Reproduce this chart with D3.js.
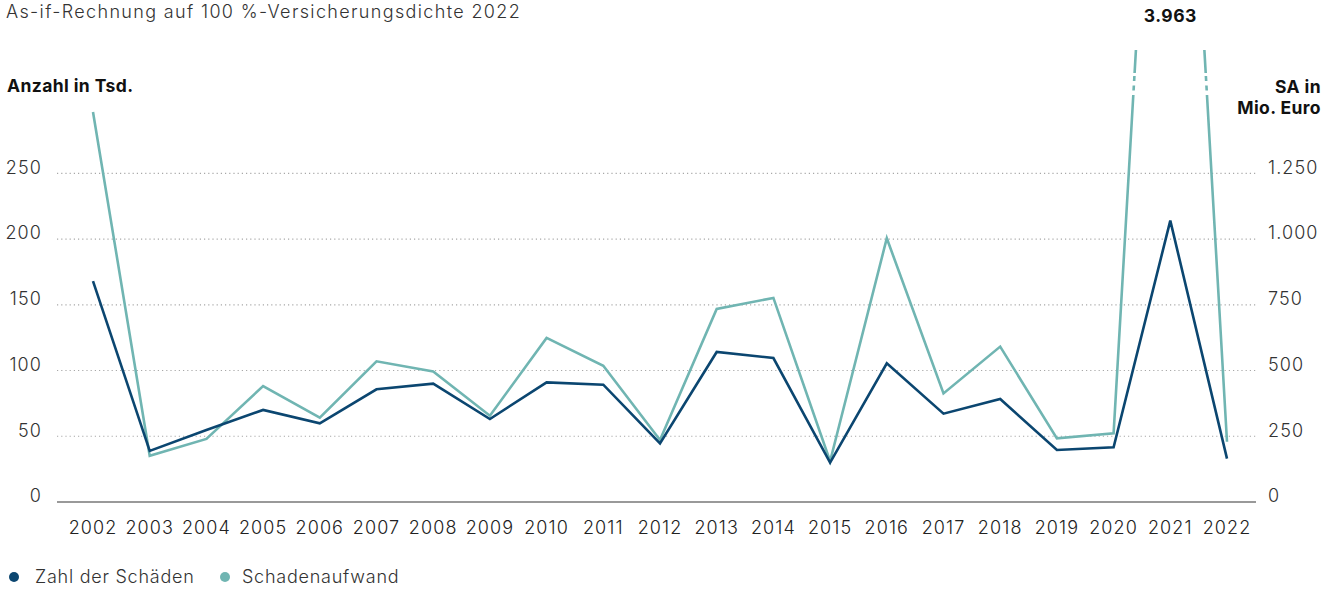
<!DOCTYPE html>
<html>
<head>
<meta charset="utf-8">
<script src="https://cdn.jsdelivr.net/npm/d3@7"></script>
<style>
  html, body { margin: 0; padding: 0; background: #fff; }
  svg { display: block; font-family: "Inter", "Roboto", sans-serif; }
  .reg { font-weight: 300; letter-spacing: 1.1px; }
</style>
</head>
<body>
<svg id="chart" width="1338" height="590"></svg>
<script>
const years = ["2002","2003","2004","2005","2006","2007","2008","2009","2010","2011","2012","2013","2014","2015","2016","2017","2018","2019","2020","2021","2022"];
const zahlDerSchaeden = [168, 38.9, 54.7, 70, 59.8, 85.7, 90, 63.1, 91, 89.2, 44.6, 114.1, 109.5, 30, 105.5, 67.2, 78.3, 39.6, 41.6, 214, 33];
const schadenaufwand = [1483, 176, 240, 441, 321, 535, 496, 328, 624, 518, 236, 734, 776, 155, 1003, 413, 591, 242, 261, 3963, 229];
const leftTicks = [0, 50, 100, 150, 200, 250];
const rightTicks = [0, 250, 500, 750, 1000, 1250];
const seriesNames = ["Zahl der Schäden", "Schadenaufwand"];
const colors = ["#0b4670", "#70b5b2"];

const svg = d3.select("#chart");
const x = d3.scalePoint().domain(years).range([93, 1227]);
const yL = d3.scaleLinear().domain([0, 250]).range([502, 173.3]);
const yR = d3.scaleLinear().domain([0, 1250]).range([502, 173.3]);
const gridX0 = 57, gridX1 = 1258;
const fmt = d => d3.format(",")(d).replace(/,/g, ".");

// gridlines
svg.append("g").selectAll("line").data(leftTicks.filter(d => d > 0)).join("line")
  .attr("x1", gridX0).attr("x2", gridX1)
  .attr("y1", d => yL(d)).attr("y2", d => yL(d))
  .attr("stroke", "#a8a8a8").attr("stroke-width", 1.2).attr("stroke-dasharray", "1.2,3");
// baseline
svg.append("line").attr("x1", gridX0).attr("x2", 1256).attr("y1", yL(0)).attr("y2", yL(0))
  .attr("stroke", "#777").attr("stroke-width", 1.5);

// left axis labels
svg.append("g").selectAll("text").data(leftTicks).join("text").attr("class", "reg")
  .attr("x", 42).attr("y", d => yL(d) - 6).attr("dy", "0.35em")
  .attr("text-anchor", "end").attr("font-size", 18).attr("fill", "#333")
  .text(fmt);
// right axis labels
svg.append("g").selectAll("text").data(rightTicks).join("text").attr("class", "reg")
  .attr("x", 1268).attr("y", d => yR(d) - 6).attr("dy", "0.35em")
  .attr("text-anchor", "start").attr("font-size", 18).attr("fill", "#333")
  .text(fmt);
// x labels
svg.append("g").selectAll("text").data(years).join("text").attr("class", "reg")
  .attr("x", d => x(d)).attr("y", 528).attr("dy", "0.35em")
  .attr("text-anchor", "middle").attr("font-size", 18).attr("fill", "#222")
  .text(d => d);

// clip for break
const defs = svg.append("defs");
const cp = defs.append("clipPath").attr("id", "brk");
[[0, 50, 1338, 23], [0, 76, 1338, 5], [0, 85.5, 1338, 5], [0, 95, 1338, 500]].forEach(r => {
  cp.append("rect").attr("x", r[0]).attr("y", r[1]).attr("width", r[2]).attr("height", r[3]);
});

const line = (scale) => d3.line().x((d, i) => x(years[i])).y(d => scale(d));

svg.append("path").datum(schadenaufwand)
  .attr("d", line(yR)).attr("fill", "none")
  .attr("stroke", colors[1]).attr("stroke-width", 2.6).attr("stroke-linejoin", "miter")
  .attr("clip-path", "url(#brk)");
svg.append("path").datum(zahlDerSchaeden)
  .attr("d", line(yL)).attr("fill", "none")
  .attr("stroke", colors[0]).attr("stroke-width", 2.6).attr("stroke-linejoin", "miter");

// peak label
svg.append("text").attr("x", x("2021")).attr("y", 16).attr("dy", "0.35em")
  .attr("text-anchor", "middle").attr("font-size", 17.5).attr("font-weight", 700).attr("fill", "#111")
  .attr("letter-spacing", "0.5px")
  .text(fmt(schadenaufwand[19]));

// titles
svg.append("text").attr("class", "reg").attr("x", 6).attr("y", 12).attr("dy", "0.35em")
  .attr("letter-spacing", "1.35px").style("letter-spacing", "1.35px")
  .attr("font-size", 18).attr("fill", "#333").text("As-if-Rechnung auf 100 %-Versicherungsdichte 2022");
svg.append("text").attr("x", 7).attr("y", 86).attr("dy", "0.35em").attr("letter-spacing", "0.4px")
  .attr("font-size", 17.5).attr("font-weight", 700).attr("fill", "#111").text("Anzahl in Tsd.");
svg.append("text").attr("x", 1321).attr("y", 87).attr("dy", "0.35em").attr("text-anchor", "end").attr("letter-spacing", "0.4px")
  .attr("font-size", 17.5).attr("font-weight", 700).attr("fill", "#111").text("SA in");
svg.append("text").attr("x", 1321).attr("y", 108).attr("dy", "0.35em").attr("text-anchor", "end").attr("letter-spacing", "0.4px")
  .attr("font-size", 17.5).attr("font-weight", 700).attr("fill", "#111").text("Mio. Euro");

// legend
const legX = [14, 225];
const legText = [35, 242];
const lg = svg.append("g").selectAll("g").data(seriesNames).join("g")
  .attr("transform", (d, i) => `translate(${legX[i]},577)`);
lg.append("circle").attr("r", 5).attr("fill", (d, i) => colors[i]);
lg.append("text").attr("class", "reg").style("letter-spacing", "0.75px").attr("x", (d, i) => legText[i] - legX[i]).attr("dy", "0.35em")
  .attr("font-size", 18).attr("fill", "#333").text(d => d);
</script>
</body>
</html>
